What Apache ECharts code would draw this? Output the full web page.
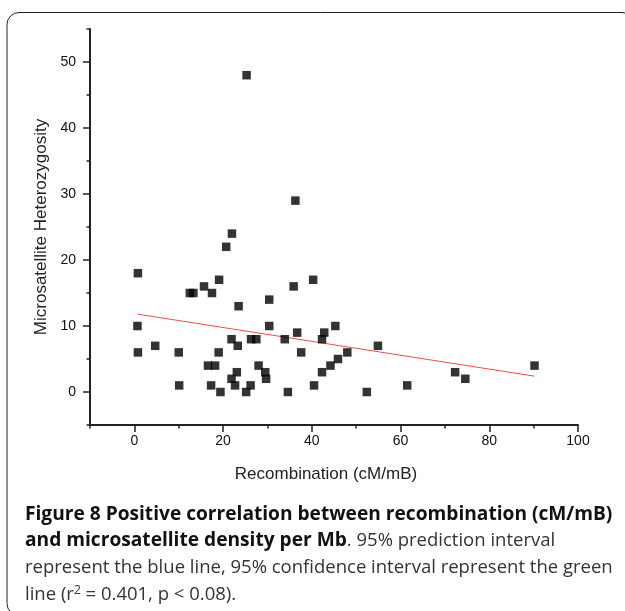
<!DOCTYPE html>
<html>
<head>
<meta charset="utf-8">
<script src="https://cdn.jsdelivr.net/npm/echarts@6/dist/echarts.min.js"></script>
<style>
  html, body { margin: 0; padding: 0; background: #fff; }
  #chart { width: 625px; height: 611px; }
</style>
</head>
<body>
<div id="chart"></div>
<script>
// points
const recombination = [
  0.8, 0.7, 0.8, 4.7, 10, 10.1, 12.5, 13.3, 15.7, 17.5, 19.1, 20.7, 22, 23.5,
  16.6, 18.2, 17.3, 19, 19.4, 21.9, 23.3, 21.9, 23.1, 22.7, 25.2, 26.2, 26.3,
  27.5, 28, 29.5, 29.7, 30.4, 30.4, 33.9, 34.6, 35.9, 36.7, 37.6, 40.3, 40.5,
  42.3, 42.8, 42.3, 44.2, 45.3, 45.9, 48, 54.9, 52.4, 61.5, 72.3, 74.6, 90.2,
  25.3, 36.3
]
const heterozygosity = [
  18, 10, 6, 7, 6, 1, 15, 15, 16, 15, 17, 22, 24, 13,
  4, 4, 1, 6, 0, 8, 7, 2, 3, 1, 0, 1, 8,
  8, 4, 3, 2, 14, 10, 8, 0, 16, 9, 6, 17, 1,
  8, 9, 3, 4, 10, 5, 6, 7, 0, 1, 3, 2, 4,
  48, 29
]
// fitted line end points
const fitX = [0.7, 90.2]
const fitY = [11.8, 2.4]

const xTicks = [0, 20, 40, 60, 80, 100]
const xMinorTicks = [-10, 10, 30, 50, 70, 90]
const yTicks = [0, 10, 20, 30, 40, 50]
const yMinorTicks = [-5, 5, 15, 25, 35, 45, 55]

const axisFont = "Liberation Sans, Arial, sans-serif"
const capFont = "Open Sans, sans-serif"
const ink = "#222"

const chart = echarts.init(document.getElementById("chart"), null, { renderer: "canvas" })

function minorAxis(base, ticks) {
  return Object.assign({}, base, {
    axisLine: { show: false, onZero: false },
    axisTick: { show: true, customValues: ticks, length: 3.5, lineStyle: { color: ink, width: 1.5 } },
    axisLabel: { show: false },
    splitLine: { show: false },
    name: ""
  })
}

const xBase = { type: "value", min: -10, max: 100, interval: 10, position: "bottom" }
const yBase = { type: "value", min: -5, max: 55, interval: 5, position: "left" }
const tickLabel = { color: "#111", fontSize: 14, fontFamily: axisFont }

chart.setOption({
  animation: false,
  grid: { left: 90, right: 47, top: 29, bottom: 186, containLabel: false },
  xAxis: [
    Object.assign({}, xBase, {
      axisLine: { onZero: false, lineStyle: { color: ink, width: 2 } },
      axisTick: { customValues: xTicks, length: 7, lineStyle: { color: ink, width: 1.5 } },
      axisLabel: Object.assign({ customValues: xTicks, margin: 9 }, tickLabel),
      splitLine: { show: false },
      name: "Recombination (cM/mB)",
      nameLocation: "middle",
      nameGap: 41,
      nameTextStyle: { color: ink, fontSize: 17, fontFamily: axisFont, padding: [0, 16, 0, 0] }
    }),
    minorAxis(xBase, xMinorTicks)
  ],
  yAxis: [
    Object.assign({}, yBase, {
      axisLine: { onZero: false, lineStyle: { color: ink, width: 2 } },
      axisTick: { customValues: yTicks, length: 7, lineStyle: { color: ink, width: 1.5 } },
      axisLabel: Object.assign({ customValues: yTicks, margin: 14 }, tickLabel),
      splitLine: { show: false },
      name: "Microsatellite Heterozygosity",
      nameLocation: "middle",
      nameGap: 34,
      nameTextStyle: { color: ink, fontSize: 17, fontFamily: axisFont }
    }),
    minorAxis(yBase, yMinorTicks)
  ],
  series: [
    {
      type: "line",
      data: fitX.map((x, i) => [x, fitY[i]]),
      symbol: "none",
      lineStyle: { color: "#f24b4b", width: 1 },
      z: 1
    },
    {
      type: "scatter",
      data: recombination.map((x, i) => [x, heterozygosity[i]]),
      symbol: "rect",
      symbolSize: 8.5,
      itemStyle: { color: "#000" },
      z: 3
    }
  ],
  graphic: [
    {
      type: "rect",
      silent: true,
      shape: { x: 7, y: 12.5, width: 627, height: 603, r: 12 },
      style: { fill: "none", stroke: ink, lineWidth: 1 }
    },
    {
      type: "text",
      left: 25, top: 505,
      style: {
        text: "Figure 8 Positive correlation between recombination (cM/mB)",
        font: "bold 19.15px " + capFont, fill: "#111"
      }
    },
    {
      type: "text",
      left: 25, top: 531.5,
      style: {
        text: "{b|and microsatellite density per Mb}{n|. 95% prediction interval}",
        rich: {
          b: { fontFamily: capFont, fontSize: 19.15, fontWeight: "bold", fill: "#111" },
          n: { fontFamily: capFont, fontSize: 18.5, fill: "#333" }
        }
      }
    },
    {
      type: "text",
      left: 25, top: 558.5,
      style: {
        text: "represent the blue line, 95% confidence interval represent the green",
        font: "18.5px " + capFont, fill: "#333"
      }
    },
    {
      type: "text",
      left: 25, top: 585,
      style: {
        text: "{n|line (r}{s|2}{n| = 0.401, p < 0.08).}",
        rich: {
          n: { fontFamily: capFont, fontSize: 18.5, fill: "#333" },
          s: { fontFamily: capFont, fontSize: 12, fill: "#333", verticalAlign: "top" }
        }
      }
    }
  ]
})
</script>
</body>
</html>
